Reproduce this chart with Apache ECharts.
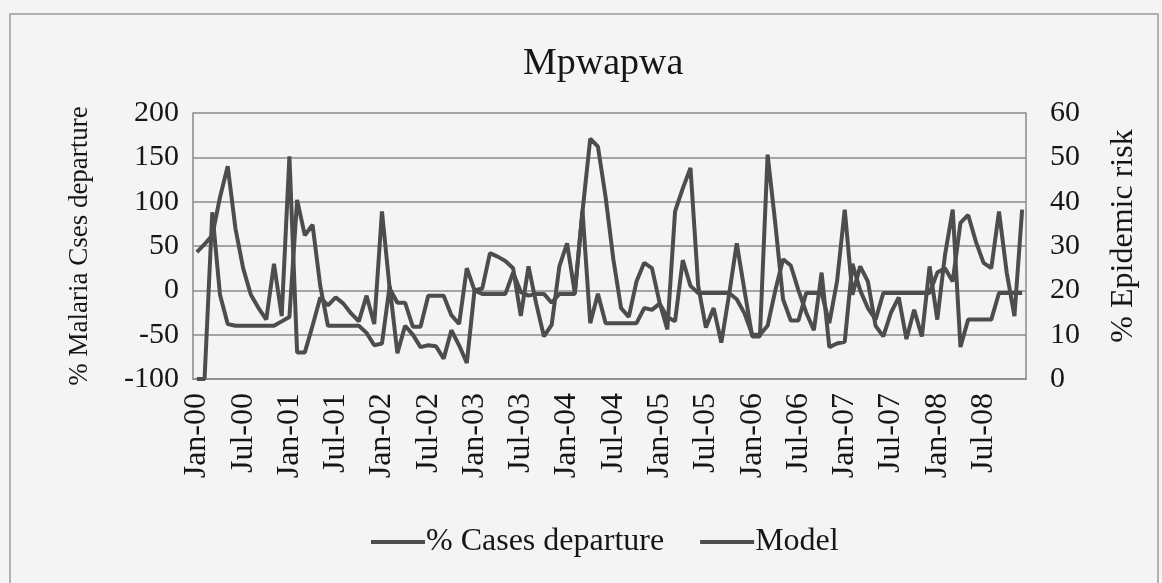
<!DOCTYPE html>
<html>
<head>
<meta charset="utf-8">
<script src="https://cdn.jsdelivr.net/npm/echarts@6/dist/echarts.min.js"></script>
<style>
  html, body { margin: 0; padding: 0; background: #f4f4f4; }
  #chart { width: 1162px; height: 583px; }
</style>
</head>
<body>
<div id="chart"></div>
<script>
// month labels, Jan-00 .. Dec-08
const monthNames = ['Jan', 'Feb', 'Mar', 'Apr', 'May', 'Jun', 'Jul', 'Aug', 'Sep', 'Oct', 'Nov', 'Dec']
const yearLabels = ['00', '01', '02', '03', '04', '05', '06', '07', '08']
const categories = []
yearLabels.forEach((y) => monthNames.forEach((m) => categories.push(m + '-' + y)))

// % Cases departure (left axis)
const casesDeparture = [
  43, 52, 62, 105, 140, 70, 25, -5, -20, -33, 30, -29,
  151, -70, -70, -40, -8, -17, -8, -15, -26, -35, -6, -38,
  89, 2, -14, -14, -41, -41, -6, -6, -6, -28, -38, 25,
  0, 2, 42, 38, 33, 25, -29, 27, -15, -52, -39, 27,
  53, -3, 89, 171, 162, 105, 35, -20, -30, 10, 31, 25,
  -14, -44, 89, 115, 138, 5, -42, -20, -59, -5, 53, 0,
  -52, -52, 153, 75, -10, -34, -34, -3, -3, -3, -37, 10,
  91, -5, 27, 10, -40, -52, -25, -8, -55, -22, -52, 27,
  -33, 40, 91, -64, -33, -33, -33, -33, -3, -3, -3, -3
]

// Model, % epidemic risk (right axis)
const modelRisk = [
  0, 0, 37.6, 19, 12.4, 12, 12, 12, 12, 12, 12, 13,
  14, 40.4, 32.4, 34.8, 21, 12, 12, 12, 12, 12, 10.4, 7.6,
  8, 21, 5.8, 12, 10, 7.2, 7.6, 7.4, 4.6, 11, 7.6, 3.6,
  20, 19.2, 19.2, 19.2, 19.2, 24, 19.6, 18.8, 19.2, 19.2, 17.2, 19.2,
  19.2, 19.2, 38, 12.6, 19.2, 12.6, 12.6, 12.6, 12.6, 12.6, 16, 15.6,
  17, 14, 13, 26.8, 21, 19.4, 19.4, 19.4, 19.4, 19.4, 18, 14.8,
  10, 10, 12, 20, 27, 25.6, 20, 15, 11, 24, 7.2, 8,
  8.4, 26, 20, 16, 13.4, 19.4, 19.4, 19.4, 19.4, 19.4, 19.4, 19.4,
  24, 25, 22, 35.2, 37, 31, 26.2, 25, 37.8, 24, 14.2, 38.2
]

const serif = '"Liberation Serif", "Times New Roman", serif'
const lineColor = '#4d4d4d'
const gridColor = '#8a8a8a'
const textColor = '#161616'

const chart = echarts.init(document.getElementById('chart'))

chart.setOption({
  backgroundColor: '#f4f4f4',
  animation: false,
  textStyle: { fontFamily: serif, color: textColor },
  graphic: [
    {
      type: 'rect',
      shape: { x: 10, y: 14, width: 1148, height: 580 },
      style: { fill: 'none', stroke: '#9a9a9a', lineWidth: 1.5 },
      silent: true
    }
  ],
  title: {
    text: 'Mpwapwa',
    left: 518,
    top: 40,
    textStyle: { fontFamily: serif, fontSize: 38, fontWeight: 'normal', color: textColor }
  },
  legend: {
    bottom: 20,
    left: 366,
    icon: 'rect',
    itemWidth: 54,
    itemHeight: 4,
    itemGap: 36,
    textStyle: { fontFamily: serif, fontSize: 32, color: textColor, padding: [0, 0, 0, -4] },
    data: ['% Cases departure', 'Model']
  },
  grid: {
    left: 193,
    right: 136,
    top: 113,
    bottom: 204
  },
  xAxis: {
    type: 'category',
    data: categories,
    boundaryGap: true,
    axisLine: { onZero: false, lineStyle: { color: gridColor, width: 1.5 } },
    axisTick: { show: false },
    axisLabel: {
      interval: 5,
      rotate: 90,
      margin: 14,
      fontFamily: serif,
      fontSize: 32,
      color: textColor
    },
    splitLine: { show: false }
  },
  yAxis: [
    {
      type: 'value',
      min: -100,
      max: 200,
      interval: 50,
      name: '% Malaria Cses departure',
      nameLocation: 'middle',
      nameGap: 100,
      nameTextStyle: { fontFamily: serif, fontSize: 27, color: textColor },
      axisLine: { show: true, lineStyle: { color: gridColor, width: 1.5 } },
      axisTick: { show: false },
      axisLabel: { margin: 14, fontFamily: serif, fontSize: 30, color: textColor },
      splitLine: { lineStyle: { color: gridColor, width: 1.5 } }
    },
    {
      type: 'value',
      min: 0,
      max: 60,
      interval: 10,
      name: '% Epidemic risk',
      nameLocation: 'middle',
      nameGap: 82,
      nameTextStyle: { fontFamily: serif, fontSize: 32, color: textColor, padding: [0, 0, 0, 20] },
      axisLine: { show: true, lineStyle: { color: gridColor, width: 1.5 } },
      axisTick: { show: false },
      axisLabel: { margin: 24, fontFamily: serif, fontSize: 30, color: textColor },
      splitLine: { show: false }
    }
  ],
  series: [
    {
      name: '% Cases departure',
      type: 'line',
      yAxisIndex: 0,
      data: casesDeparture,
      symbol: 'none',
      itemStyle: { color: lineColor },
      lineStyle: { color: lineColor, width: 4 }
    },
    {
      name: 'Model',
      type: 'line',
      yAxisIndex: 1,
      data: modelRisk,
      symbol: 'none',
      itemStyle: { color: lineColor },
      lineStyle: { color: lineColor, width: 4 }
    }
  ]
})
</script>
</body>
</html>
